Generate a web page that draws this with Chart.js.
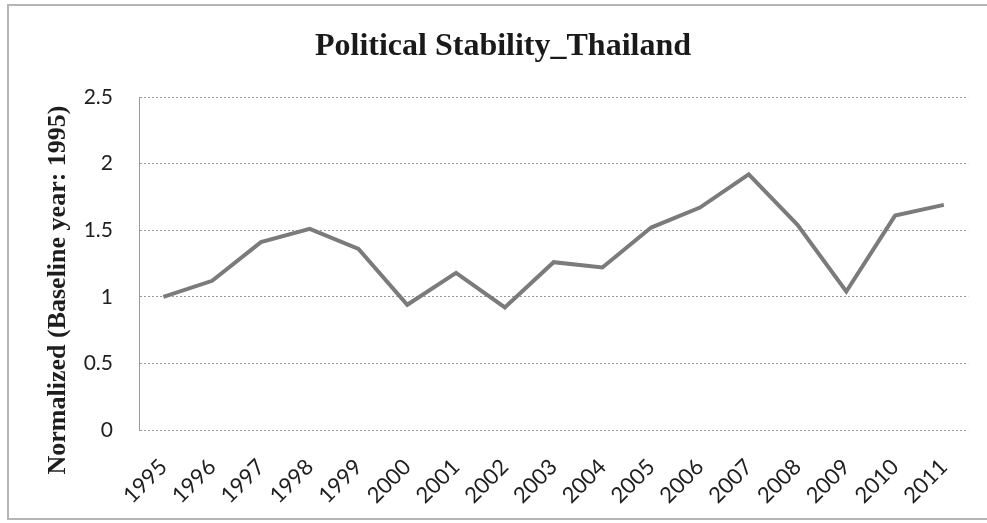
<!DOCTYPE html>
<html>
<head>
<meta charset="utf-8">
<title>Political Stability_Thailand</title>
<script src="https://cdn.jsdelivr.net/npm/chart.js@4"></script>
<style>
  html, body { margin: 0; padding: 0; background: #ffffff; }
  #wrap { width: 987px; height: 523px; position: relative; }
</style>
</head>
<body>
<div id="wrap"><canvas id="chart" width="987" height="523"></canvas></div>
<script>
// Years on the category axis
const years = ['1995', '1996', '1997', '1998', '1999', '2000', '2001', '2002', '2003',
               '2004', '2005', '2006', '2007', '2008', '2009', '2010', '2011'];

// Political stability index, normalized to 1995 = 1
const stability = [1.00, 1.12, 1.41, 1.51, 1.36, 0.94, 1.18, 0.92, 1.26,
                   1.22, 1.52, 1.67, 1.92, 1.54, 1.04, 1.61, 1.69];

// Value axis range and step
const yMin = 0;
const yMax = 2.5;
const yStep = 0.5;

const chartTitle = 'Political Stability_Thailand';
const yAxisTitle = 'Normalized (Baseline year: 1995)';

// Outer frame, chart title and the rotated value-axis title
const framePlugin = {
  id: 'frameAndTitles',
  beforeDraw(chart) {
    const ctx = chart.ctx;
    ctx.save();
    ctx.strokeStyle = '#b5b5b5';
    ctx.lineWidth = 2;
    ctx.strokeRect(8, 5, 990, 514);
    ctx.restore();
  },
  afterDraw(chart) {
    const ctx = chart.ctx;
    ctx.save();
    ctx.font = 'bold 32px "Liberation Serif", "Times New Roman", serif';
    ctx.fillStyle = '#1a1a1a';
    ctx.textAlign = 'center';
    ctx.textBaseline = 'alphabetic';
    ctx.fillText(chartTitle, 503, 55);
    ctx.restore();

    ctx.save();
    ctx.translate(58, 290);
    ctx.rotate(-Math.PI / 2);
    ctx.font = 'bold 26px "Liberation Serif", "Times New Roman", serif';
    ctx.fillStyle = '#1e1e1e';
    ctx.textAlign = 'center';
    ctx.textBaseline = 'middle';
    ctx.fillText(yAxisTitle, 0, 0);
    ctx.restore();
  }
};

new Chart(document.getElementById('chart'), {
  type: 'line',
  data: {
    labels: years,
    datasets: [{
      data: stability,
      borderColor: '#7b7b7b',
      borderWidth: 4,
      pointRadius: 0,
      pointHoverRadius: 0,
      tension: 0,
      fill: false
    }]
  },
  options: {
    responsive: false,
    animation: false,
    events: [],
    layout: { padding: { left: 0, right: 17, top: 97, bottom: 0 } },
    plugins: {
      legend: { display: false },
      tooltip: { enabled: false },
      title: { display: false }
    },
    scales: {
      x: {
        offset: true,
        grid: { display: false, drawTicks: false },
        border: { display: false },
        ticks: {
          autoSkip: false,
          maxRotation: 45,
          minRotation: 45,
          padding: 24,
          color: '#1e1e1e',
          font: { family: 'Lato, "Open Sans", sans-serif', size: 22 }
        },
        afterFit(scale) { scale.height = 93; }
      },
      y: {
        min: yMin,
        max: yMax,
        grid: {
          color: '#9a9a9a',
          lineWidth: 1,
          drawTicks: false
        },
        border: { display: true, color: '#9a9a9a', width: 1, dash: [2, 2] },
        ticks: {
          stepSize: yStep,
          padding: 26,
          color: '#1e1e1e',
          font: { family: 'Lato, "Open Sans", sans-serif', size: 21 },
          callback: (value) => String(Number(value))
        },
        afterFit(scale) { scale.width = 139; }
      }
    }
  },
  plugins: [framePlugin]
});
</script>
</body>
</html>
